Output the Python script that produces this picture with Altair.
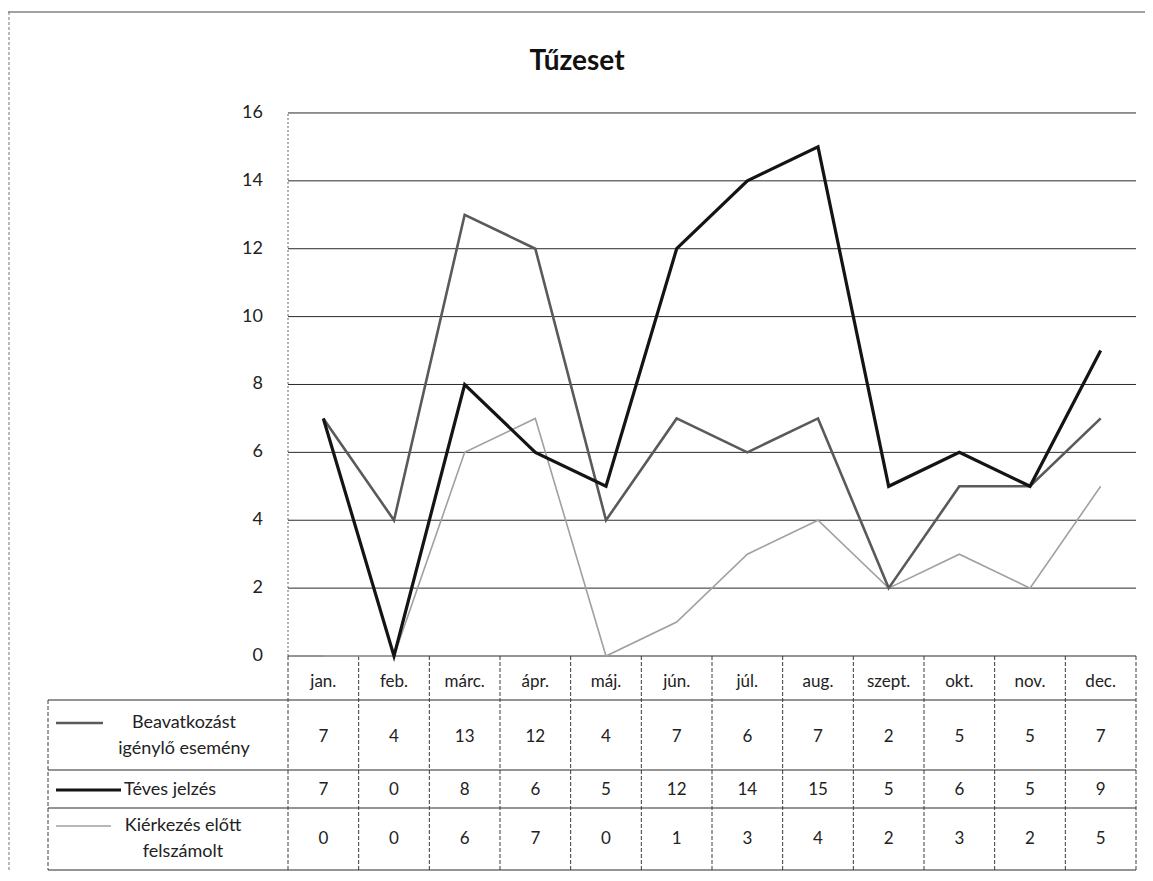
import altair as alt
import pandas as pd

# ---------------- data ----------------
months = ["jan.", "feb.", "márc.", "ápr.", "máj.", "jún.", "júl.", "aug.",
          "szept.", "okt.", "nov.", "dec."]
beavatkozast = [7, 4, 13, 12, 4, 7, 6, 7, 2, 5, 5, 7]
teves_jelzes = [7, 0, 8, 6, 5, 12, 14, 15, 5, 6, 5, 9]
kierkezes_elott = [0, 0, 6, 7, 0, 1, 3, 4, 2, 3, 2, 5]
series_names = ["Beavatkozást igénylő esemény", "Téves jelzés",
                "Kiérkezés előtt felszámolt"]
series_labels = ["Beavatkozást\nigénylő esemény", "Téves jelzés",
                 "Kiérkezés előtt\nfelszámolt"]
y_ticks = [0, 2, 4, 6, 8, 10, 12, 14, 16]
chart_title = "Tűzeset"

# ---------------- style / layout ----------------
FONT = "Lato"
TEXT_COLOR = "#222222"
series_colors = ["#5a5a5a", "#141414", "#a0a0a0"]
series_widths = [2.6, 3.2, 1.6]
W, H = 1137, 864          # whole chart = view (padding 0)
PAGE = 8                  # page margin


def ux(p):   # page pixel -> x data unit (month columns are 1 unit wide)
    return (p - 288) / 70.667


def uy(p):   # page pixel -> y data unit
    return (656 - p) / 33.94


xs = alt.Scale(domain=[ux(PAGE), ux(PAGE + W)], nice=False, zero=False)
ys = alt.Scale(domain=[uy(PAGE + H), uy(PAGE)], nice=False, zero=False)


def X(f):
    return alt.X(f, type="quantitative", scale=xs, axis=None)


def Y(f):
    return alt.Y(f, type="quantitative", scale=ys, axis=None)


n = len(months)
xi = [i + 0.5 for i in range(n)]
series_values = [beavatkozast, teves_jelzes, kierkezes_elott]

# table geometry (in data units)
T_LEFT = ux(48)
row_bounds = [0, uy(700), uy(770), uy(808), uy(870)]
header_y = uy(682)
row_centers = [uy(737), uy(790), uy(839)]
label_y = [uy(723), uy(790), uy(826)]      # first text line of each legend label
symbol_x0 = ux(56)
symbol_x1 = [ux(103), ux(121), ux(111)]
label_x = [ux(184), ux(124), ux(183)]
label_align = ["center", "left", "center"]

layers = []

# outer frame (top + left)
frame_top = pd.DataFrame({"x0": [ux(PAGE)], "x1": [ux(PAGE + W)], "y": [uy(12)]})
layers.append(alt.Chart(frame_top).mark_rule(color="#444444", strokeWidth=1.2)
              .encode(x=X("x0"), x2=alt.X2("x1"), y=Y("y")))
frame_left = pd.DataFrame({"x": [ux(PAGE + 1)], "y0": [uy(12)], "y1": [uy(PAGE + H)]})
layers.append(alt.Chart(frame_left).mark_rule(color="#777777", strokeWidth=1, strokeDash=[3, 2])
              .encode(x=X("x"), y=Y("y0"), y2=alt.Y2("y1")))

# gridlines
grid_df = pd.DataFrame({"v": y_ticks, "x0": 0, "x1": n})
layers.append(alt.Chart(grid_df).mark_rule(color="#2a2a2a", strokeWidth=1)
              .encode(x=X("x0"), x2=alt.X2("x1"), y=Y("v")))
# y tick labels
ytl_df = pd.DataFrame({"v": y_ticks, "x": ux(263), "t": [str(v) for v in y_ticks]})
layers.append(alt.Chart(ytl_df).mark_text(font=FONT, fontSize=18, color=TEXT_COLOR,
                                          align="right", baseline="middle")
              .encode(x=X("x"), y=Y("v"), text="t:N"))

# vertical axis line of plot
vline = pd.DataFrame({"x": [0], "y0": [0], "y1": [16]})
layers.append(alt.Chart(vline).mark_rule(color="#666666", strokeWidth=1, strokeDash=[2, 2])
              .encode(x=X("x"), y=Y("y0"), y2=alt.Y2("y1")))

# table horizontal lines
hl_df = pd.DataFrame({"y": row_bounds[1:], "x0": T_LEFT, "x1": n})
layers.append(alt.Chart(hl_df).mark_rule(color="#2a2a2a", strokeWidth=1)
              .encode(x=X("x0"), x2=alt.X2("x1"), y=Y("y")))
# table vertical lines
vl_df = pd.DataFrame({"x": list(range(n + 1)) + [T_LEFT],
                      "y0": [0] * (n + 1) + [row_bounds[1]],
                      "y1": [row_bounds[-1]] * (n + 2)})
layers.append(alt.Chart(vl_df).mark_rule(color="#3a3a3a", strokeWidth=1, strokeDash=[4, 2])
              .encode(x=X("x"), y=Y("y0"), y2=alt.Y2("y1")))

# month header
hdr_df = pd.DataFrame({"x": xi, "y": header_y, "t": months})
layers.append(alt.Chart(hdr_df).mark_text(font=FONT, fontSize=17, color=TEXT_COLOR,
                                          align="center", baseline="middle")
              .encode(x=X("x"), y=Y("y"), text="t:N"))

# table values
val_rows = []
for s, vals in enumerate(series_values):
    for i, v in enumerate(vals):
        val_rows.append({"x": xi[i], "y": row_centers[s], "t": str(v)})
layers.append(alt.Chart(pd.DataFrame(val_rows)).mark_text(
    font=FONT, fontSize=17, color=TEXT_COLOR, align="center", baseline="middle")
    .encode(x=X("x"), y=Y("y"), text="t:N"))

# lines (drawn light-to-dark) + legend keys + legend labels
for s in [2, 0, 1]:
    df = pd.DataFrame({"x": xi, "value": series_values[s], "month": months})
    layers.append(alt.Chart(df).mark_line(color=series_colors[s],
                                          strokeWidth=series_widths[s])
                  .encode(x=X("x"), y=Y("value")))
for s in range(3):
    sym = pd.DataFrame({"x0": [symbol_x0], "x1": [symbol_x1[s]], "y": [label_y[s]]})
    layers.append(alt.Chart(sym).mark_rule(color=series_colors[s],
                                           strokeWidth=series_widths[s])
                  .encode(x=X("x0"), x2=alt.X2("x1"), y=Y("y")))
    lab = pd.DataFrame({"x": [label_x[s]], "y": [label_y[s]], "t": [series_labels[s]]})
    layers.append(alt.Chart(lab).mark_text(font=FONT, fontSize=18, color=TEXT_COLOR,
                                           align=label_align[s], baseline="middle",
                                           lineBreak="\n", lineHeight=26)
                  .encode(x=X("x"), y=Y("y"), text="t:N"))

# title
title_df = pd.DataFrame({"x": [ux(577)], "y": [uy(62)], "t": [chart_title]})
layers.append(alt.Chart(title_df).mark_text(font=FONT, fontSize=28, fontWeight="bold",
                                            color="#111111", align="center",
                                            baseline="middle")
              .encode(x=X("x"), y=Y("y"), text="t:N"))

chart = alt.layer(*layers).properties(
    width=W, height=H, padding=0,
    autosize=alt.AutoSizeParams(type="none"),
    background="white",
).configure_view(strokeWidth=0)

chart.save("out.html", embed_options={"renderer": "svg", "actions": False})
